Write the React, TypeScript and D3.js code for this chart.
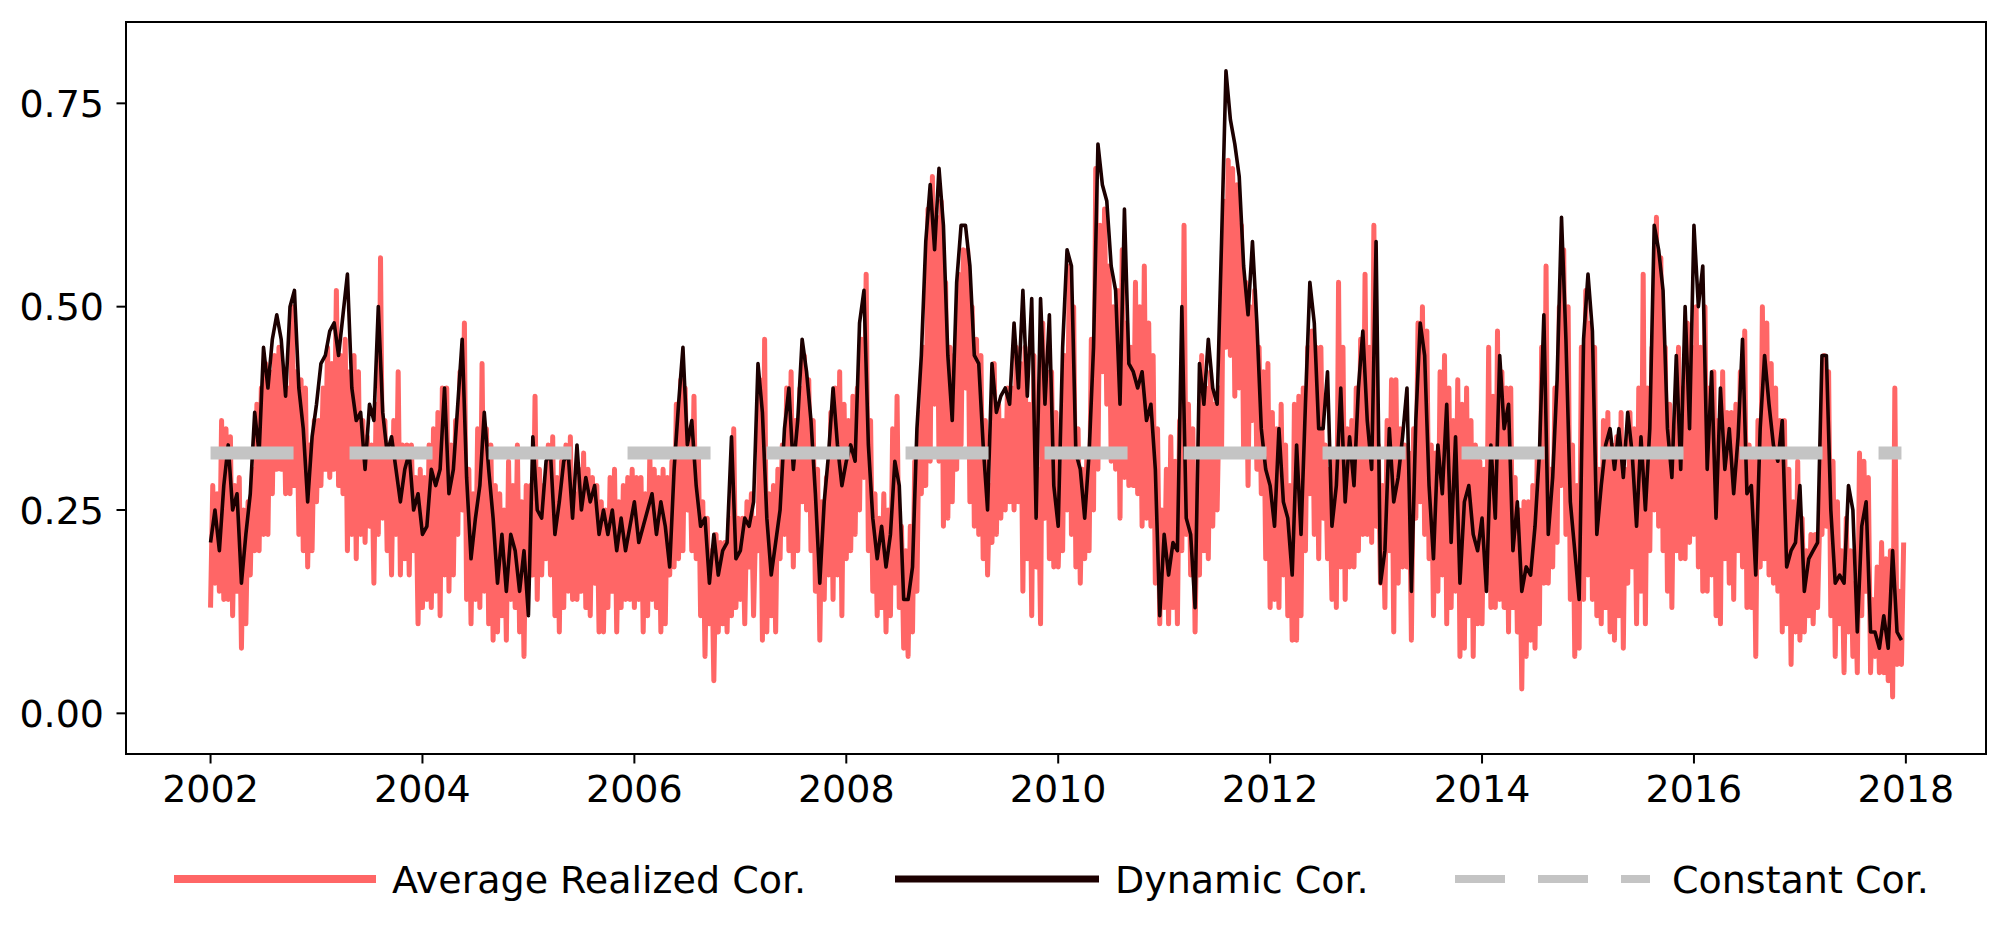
import * as d3 from 'd3';

// values are in hundredths, 24 samples per year (twice a month), 2002 .. 2017
const startYear = 2002;
const stepsPerYear = 24;

const dynamicCor = [
  21, 25, 20, 28, 33, 25, 27, 16, 22, 27, 37, 32, 45, 40, 46, 49, 46, 39, 50, 52, 40, 35, 26, 34, // 2002
  38, 43, 44, 47, 48, 44, 49, 54, 40, 36, 37, 30, 38, 36, 50, 37, 32, 34, 30, 26, 30, 32, 25, 27, // 2003
  22, 23, 30, 28, 30, 40, 27, 30, 38, 46, 29, 19, 24, 28, 37, 30, 24, 16, 22, 15, 22, 20, 15, 20, // 2004
  12, 34, 25, 24, 31, 32, 22, 26, 31, 32, 24, 33, 25, 29, 26, 28, 22, 25, 22, 25, 20, 24, 20, 23, // 2005
  26, 21, 23, 25, 27, 22, 26, 23, 18, 30, 38, 45, 33, 36, 28, 23, 24, 16, 22, 17, 20, 21, 34, 19, // 2006
  20, 24, 23, 26, 43, 37, 24, 17, 21, 25, 35, 40, 30, 36, 46, 42, 36, 27, 16, 26, 32, 40, 33, 28, // 2007
  31, 33, 31, 48, 52, 33, 24, 19, 23, 18, 22, 31, 28, 14, 14, 18, 35, 44, 58, 65, 57, 67, 60, 44, // 2008
  36, 53, 60, 60, 55, 44, 43, 33, 25, 43, 37, 39, 40, 38, 48, 40, 52, 39, 51, 24, 51, 38, 49, 28, // 2009
  23, 45, 57, 55, 32, 30, 24, 32, 45, 70, 65, 63, 55, 52, 38, 62, 43, 42, 40, 42, 36, 38, 30, 12, // 2010
  22, 17, 21, 20, 50, 24, 22, 13, 43, 38, 46, 40, 38, 58, 79, 73, 70, 66, 55, 49, 58, 48, 35, 30, // 2011
  28, 23, 35, 26, 24, 17, 33, 22, 38, 53, 48, 35, 35, 42, 23, 28, 40, 26, 34, 28, 40, 47, 36, 30, // 2012
  58, 16, 20, 35, 26, 29, 34, 40, 15, 36, 48, 44, 28, 19, 33, 27, 38, 21, 34, 16, 26, 28, 22, 20, // 2013
  24, 15, 33, 24, 44, 35, 38, 20, 26, 15, 18, 17, 23, 32, 49, 22, 29, 41, 61, 46, 26, 20, 14, 46, // 2014
  54, 47, 22, 28, 33, 35, 30, 35, 29, 37, 32, 23, 34, 25, 35, 60, 57, 52, 35, 29, 44, 30, 50, 35, // 2015
  60, 50, 55, 30, 42, 24, 40, 30, 35, 27, 34, 46, 27, 28, 17, 35, 44, 38, 33, 31, 36, 18, 20, 21, // 2016
  28, 15, 19, 20, 21, 44, 44, 25, 16, 17, 16, 28, 25, 10, 23, 26, 10, 10, 8, 12, 8, 20, 10, 9, // 2017
];

// daily realized series is very spiky: low and high swing of each half month
const realizedLow = [
  13, 16, 15, 14, 14, 12, 15, 8, 11, 17, 20, 20, 22, 22, 27, 30, 30, 27, 27, 28, 22, 20, 18, 20,
  26, 28, 30, 29, 30, 28, 27, 20, 22, 19, 22, 21, 23, 16, 22, 24, 20, 17, 22, 17, 19, 17, 20, 11,
  13, 14, 13, 15, 12, 17, 15, 17, 22, 25, 14, 11, 14, 13, 15, 11, 9, 10, 12, 9, 14, 13, 10, 7,
  16, 17, 14, 17, 19, 17, 12, 10, 13, 15, 14, 14, 15, 13, 12, 16, 10, 10, 13, 15, 10, 13, 14, 14,
  13, 14, 10, 12, 14, 13, 10, 11, 17, 18, 19, 20, 25, 20, 19, 12, 7, 11, 4, 10, 11, 10, 12, 13,
  14, 11, 18, 12, 20, 9, 10, 12, 10, 19, 22, 20, 18, 20, 26, 25, 20, 15, 9, 14, 17, 14, 17, 12,
  19, 20, 22, 25, 29, 20, 15, 12, 13, 10, 12, 16, 13, 8, 7, 10, 15, 27, 28, 31, 38, 31, 23, 24,
  26, 30, 33, 40, 26, 23, 22, 19, 17, 21, 22, 24, 25, 26, 25, 26, 15, 19, 12, 18, 11, 24, 19, 18,
  18, 20, 25, 22, 18, 16, 19, 20, 25, 30, 42, 38, 31, 30, 24, 29, 28, 28, 27, 23, 24, 23, 16, 11,
  13, 11, 13, 11, 20, 22, 17, 10, 17, 20, 19, 23, 25, 32, 45, 44, 39, 40, 32, 28, 36, 30, 27, 19,
  13, 14, 13, 17, 12, 9, 9, 12, 20, 27, 22, 19, 24, 19, 14, 13, 18, 14, 18, 18, 20, 22, 22, 21,
  23, 16, 13, 20, 10, 16, 18, 18, 9, 24, 26, 22, 19, 12, 15, 17, 11, 13, 15, 7, 8, 12, 7, 11,
  11, 16, 13, 13, 14, 13, 10, 13, 10, 3, 7, 9, 8, 11, 16, 16, 18, 21, 28, 22, 14, 7, 8, 14,
  17, 14, 12, 11, 13, 10, 9, 12, 8, 16, 18, 11, 15, 11, 20, 25, 23, 20, 15, 13, 20, 19, 19, 21,
  22, 18, 15, 15, 17, 12, 11, 19, 16, 14, 20, 18, 13, 13, 7, 18, 19, 17, 16, 15, 10, 11, 6, 10,
  9, 10, 12, 11, 13, 22, 23, 12, 7, 11, 5, 10, 7, 5, 12, 15, 5, 7, 5, 5, 4, 2, 6, 6,
];

const realizedHigh = [
  28, 27, 36, 35, 34, 28, 29, 25, 26, 30, 38, 40, 43, 42, 44, 45, 42, 40, 50, 42, 41, 40, 33, 36,
  36, 40, 45, 43, 52, 44, 46, 42, 44, 42, 36, 34, 33, 38, 56, 36, 32, 36, 42, 33, 33, 33, 29, 30,
  29, 33, 35, 37, 40, 40, 33, 36, 42, 48, 30, 27, 35, 43, 35, 33, 28, 27, 25, 31, 28, 33, 26, 28,
  28, 39, 30, 28, 33, 34, 29, 31, 33, 34, 27, 30, 32, 30, 29, 28, 26, 25, 29, 30, 26, 28, 29, 30,
  29, 29, 27, 32, 30, 29, 30, 29, 31, 38, 41, 40, 34, 39, 32, 26, 24, 20, 22, 21, 21, 24, 35, 24,
  24, 26, 27, 24, 41, 46, 27, 28, 30, 33, 40, 42, 36, 40, 44, 41, 36, 30, 26, 29, 37, 40, 42, 38,
  36, 39, 40, 46, 54, 36, 27, 24, 27, 25, 35, 39, 23, 20, 23, 31, 37, 45, 62, 66, 61, 63, 53, 45,
  44, 54, 57, 57, 50, 46, 44, 36, 28, 43, 38, 36, 40, 40, 45, 43, 45, 38, 44, 30, 48, 42, 42, 37,
  28, 44, 55, 50, 35, 30, 32, 46, 67, 60, 62, 55, 50, 52, 57, 48, 45, 53, 50, 55, 48, 44, 35, 25,
  30, 34, 31, 36, 60, 38, 35, 28, 44, 40, 42, 38, 40, 63, 68, 67, 65, 60, 53, 50, 52, 45, 42, 43,
  37, 35, 38, 33, 28, 38, 39, 40, 45, 47, 45, 45, 33, 30, 32, 53, 45, 35, 36, 40, 46, 54, 45, 60,
  33, 28, 36, 41, 41, 35, 33, 32, 35, 48, 50, 47, 33, 32, 42, 44, 40, 36, 41, 38, 40, 36, 33, 31,
  30, 45, 39, 47, 42, 40, 40, 29, 25, 26, 26, 28, 32, 45, 55, 30, 40, 50, 57, 50, 33, 28, 45, 52,
  48, 45, 30, 36, 37, 33, 34, 37, 30, 37, 35, 40, 54, 40, 45, 61, 56, 45, 38, 35, 45, 40, 48, 45,
  50, 45, 50, 40, 42, 36, 42, 37, 37, 38, 42, 47, 33, 31, 36, 50, 48, 43, 40, 36, 36, 30, 26, 31,
  24, 20, 22, 22, 24, 44, 42, 31, 26, 20, 24, 20, 16, 32, 31, 29, 14, 18, 21, 19, 20, 40, 15, 21,
];

const constantCor = 0.32;

const xTicks = [2002, 2004, 2006, 2008, 2010, 2012, 2014, 2016, 2018];
const yTicks = [0, 0.25, 0.5, 0.75];
const legendLabels = ['Average Realized Cor.', 'Dynamic Cor.', 'Constant Cor.'];

const RED = '#ff6666';
const DARK = '#1c0000';
const GREY = '#c4c4c4';
const FONT = '"DejaVu Sans", sans-serif';

type Pt = [number, number];

export default function App() {
  const W = 2009;
  const H = 936;
  const left = 126, right = 1986, top = 22, bottom = 754;

  const tOf = (i: number) => startYear + i / stepsPerYear;
  const tEnd = tOf(dynamicCor.length - 1);
  const pad = (tEnd - startYear) * 0.05;

  const x = d3.scaleLinear().domain([startYear - pad, tEnd + pad]).range([left, right]);
  const y = d3.scaleLinear().domain([-0.05, 0.85]).range([bottom, top]);

  const line = d3
    .line<Pt>()
    .x((d) => x(d[0]))
    .y((d) => y(d[1]));

  const realizedPts: Pt[] = realizedLow.flatMap((lo, i) => [
    [tOf(i), lo / 100] as Pt,
    [tOf(i) + 0.5 / stepsPerYear, realizedHigh[i] / 100] as Pt,
  ]);
  const dynamicPts: Pt[] = dynamicCor.map((v, i) => [tOf(i), v / 100]);
  const constPts: Pt[] = [
    [startYear, constantCor],
    [tEnd, constantCor],
  ];

  const legY = 879;

  return (
    <svg width={W} height={H} style={{ position: 'absolute', left: 0, top: 0, background: '#fff' }} fontFamily={FONT}>
      <defs>
        <clipPath id="plot">
          <rect x={left} y={top} width={right - left} height={bottom - top} />
        </clipPath>
      </defs>
      <rect width={W} height={H} fill="#fff" />
      <g clipPath="url(#plot)" fill="none">
        <path d={line(realizedPts) || ''} stroke={RED} strokeWidth={5} strokeLinejoin="round" />
        <path d={line(dynamicPts) || ''} stroke={DARK} strokeWidth={3.6} strokeLinejoin="round" />
        <path d={line(constPts) || ''} stroke={GREY} strokeWidth={13} strokeDasharray="83 56" />
      </g>
      <rect x={left} y={top} width={right - left} height={bottom - top} fill="none" stroke="#000" strokeWidth={2} />

      {xTicks.map((t) => (
        <g key={t}>
          <line x1={x(t)} x2={x(t)} y1={bottom} y2={bottom + 9.5} stroke="#000" strokeWidth={2} />
          <text x={x(t)} y={802} fontSize={38} textAnchor="middle">
            {t}
          </text>
        </g>
      ))}
      {yTicks.map((v) => (
        <g key={v}>
          <line x1={left - 9.5} x2={left} y1={y(v)} y2={y(v)} stroke="#000" strokeWidth={2} />
          <text x={104} y={y(v) + 13.5} fontSize={38} textAnchor="end">
            {v.toFixed(2)}
          </text>
        </g>
      ))}

      <g fontSize={38}>
        <line x1={174} x2={376} y1={legY} y2={legY} stroke={RED} strokeWidth={8} />
        <text x={392} y={legY + 14}>{legendLabels[0]}</text>
        <line x1={895} x2={1099} y1={legY} y2={legY} stroke={DARK} strokeWidth={7} />
        <text x={1115} y={legY + 14}>{legendLabels[1]}</text>
        <line x1={1455} x2={1650} y1={legY} y2={legY} stroke={GREY} strokeWidth={8} strokeDasharray="50 33" />
        <text x={1672} y={legY + 14}>{legendLabels[2]}</text>
      </g>
    </svg>
  );
}
